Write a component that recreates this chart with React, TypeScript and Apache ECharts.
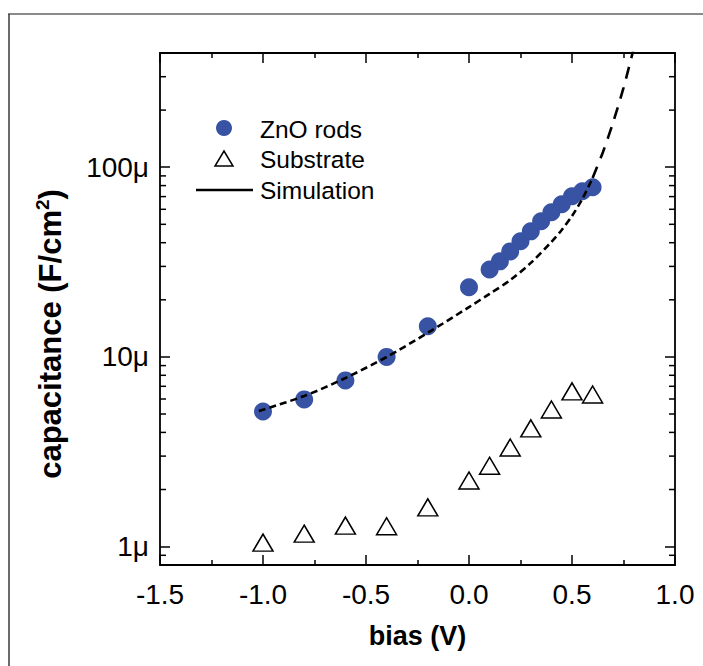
import React, { useEffect, useRef } from 'react';
import * as echarts from 'echarts';

// ZnO rods (capacitance in µF/cm²)
const biasZnO = [-1.0, -0.8, -0.6, -0.4, -0.2, 0.0, 0.1, 0.15, 0.2, 0.25, 0.3, 0.35, 0.4, 0.45, 0.5, 0.55, 0.6];
const capZnO = [5.16, 5.97, 7.52, 10.0, 14.5, 23.3, 28.9, 31.9, 36.0, 40.7, 45.9, 51.9, 57.9, 63.8, 70.3, 74.7, 78.4];

// Substrate (µF/cm²)
const biasSub = [-1.0, -0.8, -0.6, -0.4, -0.2, 0.0, 0.1, 0.2, 0.3, 0.4, 0.5, 0.6];
const capSub = [1.05, 1.17, 1.29, 1.28, 1.61, 2.23, 2.67, 3.33, 4.2, 5.28, 6.58, 6.34];

// Simulation (µF/cm²) – short-dashed part and long-dashed continuation
const biasSim = [-1.02, -0.8, -0.6, -0.4, -0.2, 0.0, 0.1, 0.2, 0.3, 0.4, 0.45, 0.5, 0.55, 0.6];
const capSim = [5.19, 6.22, 7.74, 9.99, 13.4, 18.3, 21.5, 25.4, 31.3, 40.4, 46.7, 55.3, 68.0, 87.8];
const biasSimExt = [0.6, 0.65, 0.7, 0.75, 0.8];
const capSimExt = [87.8, 120, 173, 262, 425];

// Axis ranges and ticks
const X_MIN = -1.5;
const X_MAX = 1.0;
const X_INTERVAL = 0.5;
const Y_MIN = 8e-7;
const Y_MAX = 4e-4;
const yMinorTicks = [9e-7, 2e-6, 3e-6, 4e-6, 5e-6, 6e-6, 7e-6, 8e-6, 9e-6, 2e-5, 3e-5, 4e-5, 5e-5, 6e-5, 7e-5, 8e-5, 9e-5, 2e-4, 3e-4];

const legendLabels = ['ZnO rods', 'Substrate', 'Simulation'];
const xTitle = 'bias (V)';
const yTitle = 'capacitance (F/cm{sup|2})';

const U = 1e-6;
const toData = (xs: number[], ys: number[]) => xs.map((x, i) => [x, ys[i] * U]);

const BLUE = '#3853a4';
const FONT = '"Liberation Sans", Arial, Helvetica, sans-serif';

export default function App() {
  const ref = useRef<HTMLDivElement>(null);
  useEffect(() => {
    if (!ref.current) return;
    const chart = echarts.init(ref.current, undefined, { renderer: 'svg' });

    const yLabelFmt = (v: number) => {
      const l = Math.log10(v);
      if (Math.abs(l - Math.round(l)) > 0.01) return '';
      return Math.round(v / U) + 'μ';
    };

    const axisLine = { show: true, onZero: false, lineStyle: { color: '#000', width: 1.8 } };
    const tick = { show: true, inside: true, length: 10, lineStyle: { color: '#000', width: 1.5 } };

    const option: any = {
      animation: false,
      backgroundColor: '#fff',
      textStyle: { fontFamily: FONT },
      grid: { left: 160, right: 28, top: 53, bottom: 101, containLabel: false },
      xAxis: [
        {
          type: 'value', position: 'bottom', min: X_MIN, max: X_MAX, interval: X_INTERVAL,
          axisLine, axisTick: tick,
          minorTick: { show: true, splitNumber: 2, length: 5, lineStyle: { color: '#000', width: 1.5 } },
          splitLine: { show: false },
          axisLabel: { color: '#000', fontSize: 28, fontFamily: FONT, margin: 15, formatter: (v: number) => v.toFixed(1) },
          name: xTitle, nameLocation: 'middle', nameGap: 57,
          nameTextStyle: { color: '#000', fontSize: 27, fontWeight: 'bold', fontFamily: FONT },
        },
        {
          type: 'value', position: 'top', min: X_MIN, max: X_MAX, interval: X_INTERVAL,
          axisLine, axisTick: tick,
          minorTick: { show: true, splitNumber: 2, length: 5, lineStyle: { color: '#000', width: 1.5 } },
          splitLine: { show: false },
          axisLabel: { show: false },
        },
      ],
      yAxis: [
        {
          type: 'log', logBase: 10, position: 'left', min: Y_MIN, max: Y_MAX,
          axisLine, axisTick: tick,
          splitLine: { show: false },
          axisLabel: { color: '#000', fontSize: 28, fontFamily: FONT, margin: 11, formatter: yLabelFmt },
          name: yTitle, nameLocation: 'middle', nameGap: 92, nameRotate: 90,
          nameTextStyle: {
            color: '#000', fontSize: 31, fontWeight: 'bold', fontFamily: FONT,
            padding: [0, 50, 0, 0],
            rich: {
              sup: { fontSize: 19, fontWeight: 'bold', fontFamily: FONT, color: '#000', verticalAlign: 'top', padding: [0, 0, 16, 0] },
            },
          },
        },
        {
          type: 'log', logBase: 10, position: 'right', min: Y_MIN, max: Y_MAX,
          axisLine, axisTick: tick,
          splitLine: { show: false },
          axisLabel: { show: false },
        },
      ],
      graphic: [
        { type: 'line', shape: { x1: 8, y1: 14, x2: 703, y2: 14 }, style: { stroke: '#8a8a8a', lineWidth: 2 } },
        { type: 'line', shape: { x1: 9, y1: 14, x2: 9, y2: 666 }, style: { stroke: '#3a3a3a', lineWidth: 1.5 } },
        { type: 'circle', shape: { cx: 224, cy: 128, r: 8 }, style: { fill: BLUE } },
        { type: 'polygon', shape: { points: [[215, 166], [233, 166], [224, 151]] }, style: { fill: '#fff', stroke: '#000', lineWidth: 1.5 } },
        { type: 'line', shape: { x1: 196, y1: 190, x2: 253, y2: 190 }, style: { stroke: '#000', lineWidth: 2.5 } },
        { type: 'text', x: 260, y: 129, style: { text: legendLabels[0], fontSize: 24.5, fontFamily: FONT, fill: '#000', verticalAlign: 'middle' } },
        { type: 'text', x: 260, y: 159, style: { text: legendLabels[1], fontSize: 24.5, fontFamily: FONT, fill: '#000', verticalAlign: 'middle' } },
        { type: 'text', x: 260, y: 190, style: { text: legendLabels[2], fontSize: 24.5, fontFamily: FONT, fill: '#000', verticalAlign: 'middle' } },
      ],
      series: [
        {
          type: 'custom', name: 'minorTicks', xAxisIndex: 0, yAxisIndex: 0, silent: true, clip: false,
          data: yMinorTicks.map((v) => [X_MIN, v]),
          renderItem: (params: any, api: any) => {
            const v = api.value(1);
            const l = api.coord([X_MIN, v]);
            const r = api.coord([X_MAX, v]);
            return {
              type: 'group',
              children: [
                { type: 'line', shape: { x1: l[0], y1: l[1], x2: l[0] + 6, y2: l[1] }, style: { stroke: '#000', lineWidth: 1.5 } },
                { type: 'line', shape: { x1: r[0] - 6, y1: r[1], x2: r[0], y2: r[1] }, style: { stroke: '#000', lineWidth: 1.5 } },
              ],
            };
          },
        },
        {
          type: 'scatter', name: legendLabels[1], xAxisIndex: 0, yAxisIndex: 0,
          symbol: 'triangle', symbolSize: [20, 17],
          itemStyle: { color: '#fff', borderColor: '#000', borderWidth: 1.5, opacity: 1 },
          data: toData(biasSub, capSub),
        },
        {
          type: 'scatter', name: legendLabels[0], xAxisIndex: 0, yAxisIndex: 0,
          symbol: 'circle', symbolSize: 18,
          itemStyle: { color: BLUE, opacity: 1 },
          data: toData(biasZnO, capZnO),
        },
        {
          type: 'line', name: legendLabels[2], xAxisIndex: 0, yAxisIndex: 0,
          showSymbol: false, symbol: 'none', smooth: 0.3, clip: true,
          lineStyle: { color: '#000', width: 2.6, type: [7, 4] },
          data: toData(biasSim, capSim),
        },
        {
          type: 'line', name: legendLabels[2] + ' ext', xAxisIndex: 0, yAxisIndex: 0,
          showSymbol: false, symbol: 'none', smooth: 0.3, clip: true,
          lineStyle: { color: '#000', width: 2.6, type: [12, 9] },
          data: toData(biasSimExt, capSimExt),
        },
      ],
    };
    chart.setOption(option);
    return () => chart.dispose();
  }, []);
  return <div ref={ref} style={{ position: 'absolute', left: 0, top: 0, width: 703, height: 666 }} />;
}
